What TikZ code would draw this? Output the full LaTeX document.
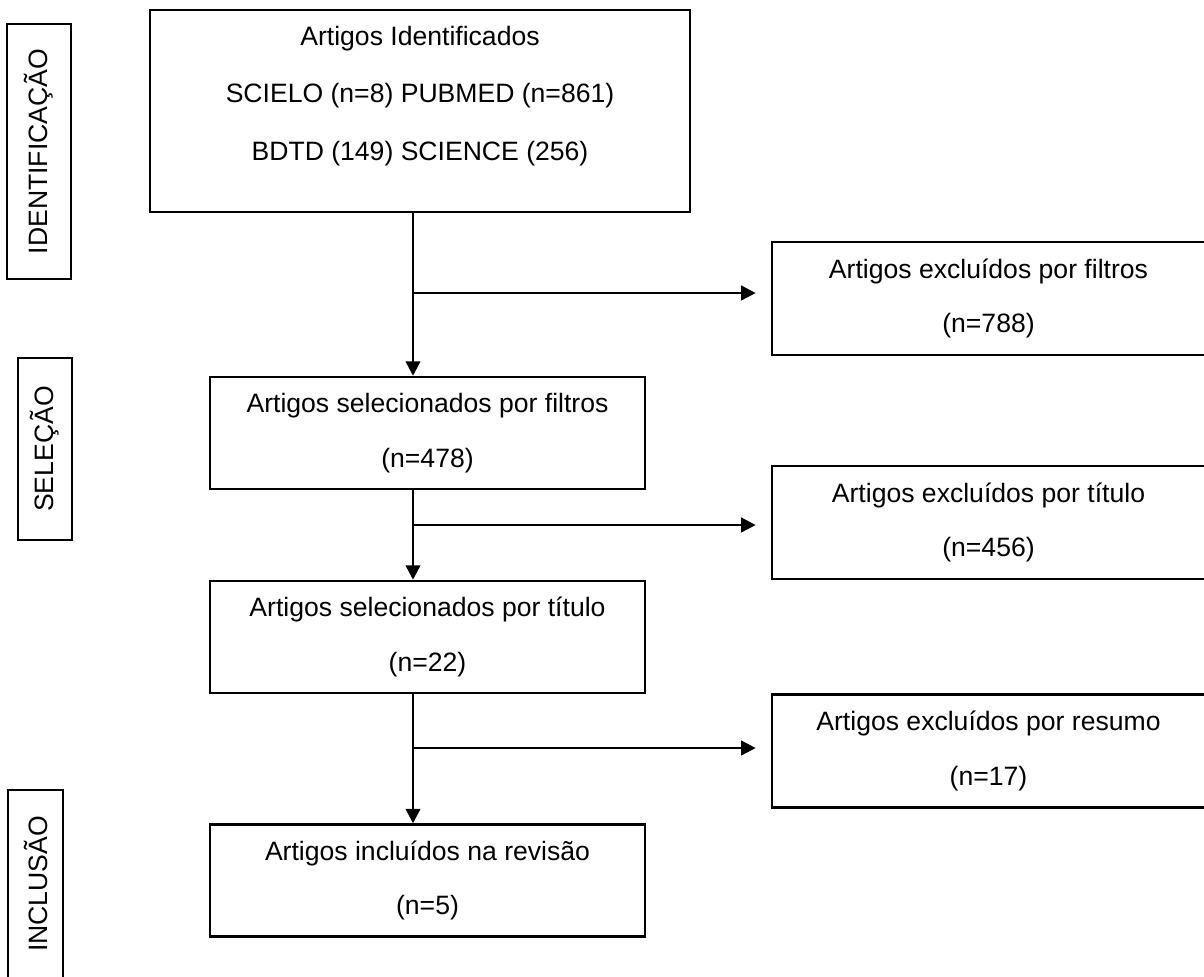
\documentclass[tikz,border=0pt]{standalone}
\usepackage{fontspec}
\setmainfont{Liberation Sans}
\usetikzlibrary{arrows.meta, calc, positioning}
\tikzset{
  every picture/.style={line join=miter},
  stage/.style={rectangle, draw=black, line width=1.9pt, align=center, inner sep=0pt,
    minimum width=10.875cm, minimum height=2.8cm, font=\fontsize{18.9}{39}\selectfont},
  excl/.style={stage, minimum width=10.825cm, minimum height=2.83cm},
  stagetext/.style={align=center, inner sep=0pt, font=\fontsize{18.9}{40.9}\selectfont},
  phase/.style={rectangle, draw=black, line width=1.7pt, rotate=90, inner sep=0pt,
    font=\fontsize{18.9}{22}\selectfont},
  flow/.style={-{Triangle[length=0.36cm, width=0.37cm]}, draw=black, line width=1.1pt},
}

\begin{document}
\begin{tikzpicture}[x=0.025cm, y=-0.025cm]
\useasboundingbox (0,0) rectangle (1204,976);

% ---- phases (left margin)
\node[phase, minimum width=6.375cm, minimum height=1.6cm] (pident) at (39,151.5) {IDENTIFICAÇÃO};
\node[phase, minimum width=4.55cm, minimum height=1.35cm] (psel) at (45,449) {SELEÇÃO};
\node[phase, minimum width=4.7cm, minimum height=1.375cm] (pincl) at (35.5,884) {INCLUSÃO};

% ---- main column
\node[stage, minimum width=13.5cm, minimum height=5.05cm] (ident) at (420,111) {};
\node[stagetext, anchor=north] (identtxt) at ($(ident.north)+(0,17)$)
  {Artigos Identificados\\SCIELO (n=8) PUBMED (n=861)\\BDTD (149) SCIENCE (256)};
\node[stage] (selfilt) at (427.5,433) {Artigos selecionados por filtros\\(n=478)};
\node[stage] (seltit) at (427.5,637) {Artigos selecionados por título\\(n=22)};
\node[stage] (incl) at (427.5,880.5) {Artigos incluídos na revisão\\(n=5)};

% ---- excluded (right column)
\node[excl] (exfilt) at (988.5,298.5) {Artigos excluídos por filtros\\(n=788)};
\node[excl] (extit) at (988.5,522.5) {Artigos excluídos por título\\(n=456)};
\node[excl] (exres) at (988.5,751) {Artigos excluídos por resumo\\(n=17)};

% ---- connectors
\coordinate (trunk) at (413,0);
\coordinate (b1) at (413,293);
\coordinate (b2) at (413,525);
\coordinate (b3) at (413,748);
\draw[flow] (ident.south -| trunk) -- (selfilt.north -| trunk);
\draw[flow] (selfilt.south -| trunk) -- (seltit.north -| trunk);
\draw[flow] (seltit.south -| trunk) -- (incl.north -| trunk);
\foreach \b/\e in {b1/exfilt, b2/extit, b3/exres} {
  \draw[flow, shorten >=0.375cm] (\b) -- (\b -| \e.west);
}

\end{tikzpicture}
\end{document}
